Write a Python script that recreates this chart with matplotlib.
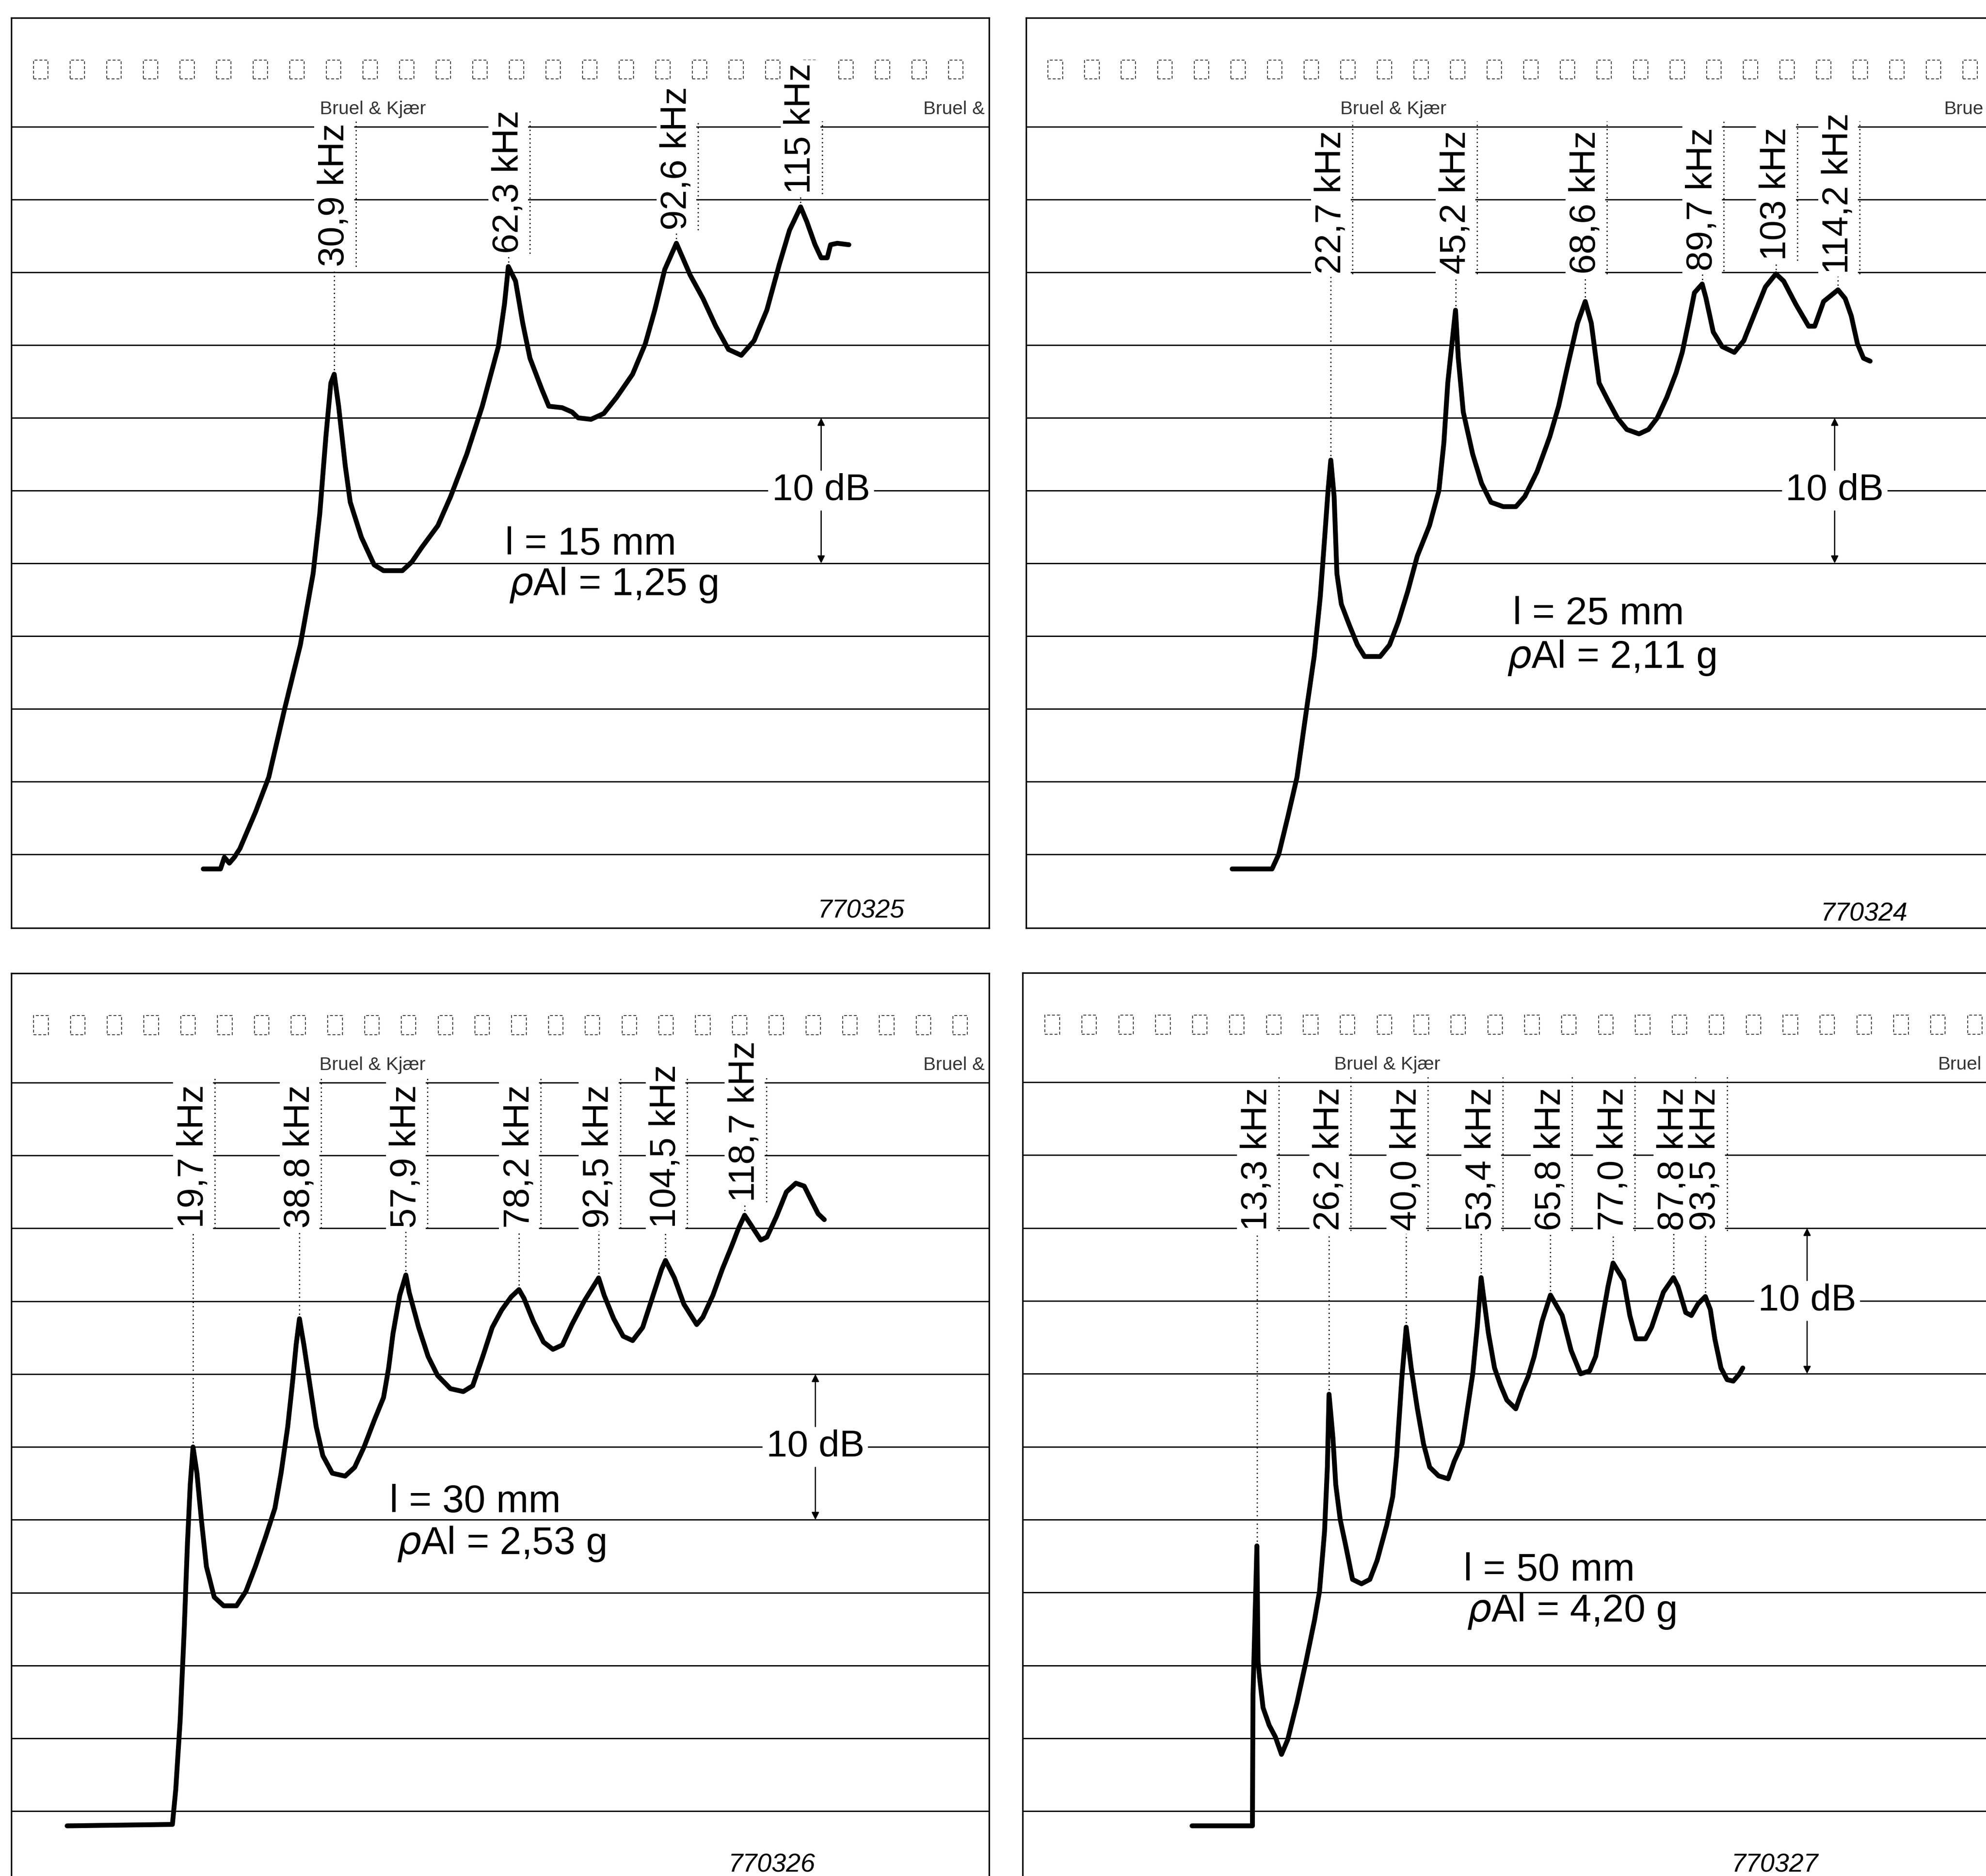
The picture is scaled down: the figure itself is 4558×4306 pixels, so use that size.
import numpy as np
import matplotlib
matplotlib.use("Agg")
import matplotlib.pyplot as plt
from matplotlib.patches import Rectangle

plt.rcParams['font.family'] = ['Liberation Sans', 'DejaVu Sans']

# reference layout is measured on a 1568 x 1481 "screen" grid
SW, SH = 1568.0, 1481.0
GRID_LEVELS = list(range(0, 55, 5))   # recorder paper lines, 5 dB apart

# ---- 770325 : l = 15 mm  (freq in kHz, level in dB above bottom line)
tl_freq = [7.3, 10.4, 11.1, 12.0, 12.9, 13.9, 16.7, 19.1, 21.9, 24.8,
           27.1, 28.3, 29.4, 30.3, 30.9, 31.7, 32.9, 33.8, 35.8, 38.1,
           39.8, 43.2, 44.9, 46.7, 49.6, 51.9, 54.8, 57.6, 60.5, 61.6,
           62.3, 63.6, 64.9, 66.2, 68.3, 69.6, 72.0, 73.8, 74.9, 77.2,
           79.5, 81.8, 84.7, 87.0, 88.7, 90.5, 92.6, 93.4, 95.1, 97.4,
           99.7, 102.0, 104.3, 106.6, 108.9, 111.2, 113.0, 115.0, 116.1, 117.6,
           118.7, 119.8, 120.4, 121.6, 123.7]
tl_level = [-1.0, -1.0, -0.2, -0.6, -0.2, 0.4, 2.9, 5.3, 9.9, 14.4,
            19.3, 23.4, 28.7, 32.4, 33.0, 30.8, 26.7, 24.2, 21.8, 19.9,
            19.5, 19.5, 20.1, 21.1, 22.6, 24.6, 27.5, 30.8, 34.9, 37.8,
            40.4, 39.4, 36.5, 34.1, 32.0, 30.8, 30.7, 30.4, 30.0, 29.9,
            30.3, 31.4, 33.0, 35.1, 37.4, 40.2, 42.0, 41.3, 39.8, 38.2,
            36.3, 34.7, 34.3, 35.3, 37.4, 40.6, 42.9, 44.5, 43.5, 41.9,
            41.0, 41.0, 41.9, 42.0, 41.9]
tl_peaks = [30.9, 62.3, 92.6, 115.0]
tl_labels = ["30,9 kHz", "62,3 kHz", "92,6 kHz", "115 kHz"]

# ---- 770324 : l = 25 mm
tr_freq = [4.9, 12.1, 13.3, 14.9, 16.6, 18.3, 19.7, 20.8, 21.6, 22.2,
           22.7, 23.3, 23.8, 24.6, 26.0, 27.5, 28.8, 31.6, 33.3, 34.9,
           36.6, 38.3, 40.5, 42.2, 43.1, 43.8, 45.2, 45.7, 46.6, 48.3,
           49.9, 51.6, 53.8, 56.1, 57.7, 59.9, 62.2, 63.8, 65.5, 67.2,
           68.6, 69.7, 71.1, 72.7, 74.4, 76.1, 78.3, 80.0, 81.6, 83.3,
           85.0, 86.1, 87.2, 88.3, 89.7, 90.4, 91.7, 93.3, 95.5, 97.2,
           99.4, 101.1, 103.0, 104.4, 106.6, 108.9, 110.0, 111.6, 114.2, 115.5,
           116.6, 117.7, 118.8, 120.0]
tr_level = [-1.0, -1.0, 0.0, 2.5, 5.3, 9.9, 13.6, 17.7, 21.8, 25.0,
            27.1, 24.6, 19.3, 17.2, 15.8, 14.4, 13.6, 13.6, 14.4, 16.0,
            18.1, 20.5, 22.6, 25.0, 28.3, 32.4, 37.4, 34.1, 30.4, 27.5,
            25.5, 24.2, 23.9, 23.9, 24.6, 26.3, 28.7, 30.8, 33.7, 36.5,
            38.0, 36.5, 32.4, 31.2, 30.0, 29.2, 28.9, 29.2, 30.0, 31.4,
            33.1, 34.5, 36.5, 38.6, 39.2, 38.2, 35.9, 34.9, 34.5, 35.3,
            37.4, 39.0, 39.9, 39.4, 37.8, 36.3, 36.3, 38.0, 38.8, 38.2,
            37.0, 35.1, 34.1, 33.9]
tr_peaks = [22.7, 45.2, 68.6, 89.7, 103.0, 114.2]
tr_labels = ["22,7 kHz", "45,2 kHz", "68,6 kHz", "89,7 kHz", "103 kHz", "114,2 kHz"]

# ---- 770326 : l = 30 mm
bl_freq = [-2.9, 16.0, 16.6, 17.4, 18.1, 18.7, 19.2, 19.7, 20.4, 21.2,
           22.1, 23.5, 25.2, 27.5, 29.2, 30.9, 32.7, 34.4, 35.5, 36.7,
           37.6, 38.2, 38.8, 39.6, 40.7, 41.8, 43.0, 44.7, 47.0, 48.7,
           50.4, 52.2, 53.9, 54.8, 55.6, 56.8, 57.9, 58.5, 60.2, 61.9,
           63.6, 65.9, 68.2, 69.9, 71.7, 73.4, 75.1, 76.8, 78.2, 79.1,
           80.8, 82.6, 84.3, 86.0, 87.7, 89.9, 92.5, 93.5, 95.2, 96.9,
           98.6, 100.4, 102.1, 103.8, 104.5, 106.1, 107.8, 110.1, 111.2, 113.0,
           114.7, 116.4, 117.6, 118.7, 119.9, 121.6, 122.7, 124.4, 126.2, 127.9,
           129.4, 130.7, 131.9, 133.0]
bl_level = [-1.0, -0.9, 1.5, 6.3, 12.3, 18.4, 22.4, 25.0, 23.2, 20.0,
            16.8, 14.7, 14.1, 14.1, 15.1, 16.8, 18.8, 20.8, 23.2, 26.4,
            29.6, 32.0, 33.8, 32.0, 29.2, 26.4, 24.4, 23.2, 23.0, 23.6,
            25.0, 26.8, 28.4, 30.4, 32.8, 35.4, 36.8, 35.6, 33.2, 31.2,
            29.9, 29.0, 28.8, 29.2, 31.2, 33.2, 34.4, 35.3, 35.8, 35.2,
            33.6, 32.2, 31.7, 32.0, 33.4, 35.0, 36.6, 35.4, 33.8, 32.6,
            32.3, 33.2, 35.2, 37.2, 37.8, 36.6, 34.8, 33.4, 33.9, 35.4,
            37.2, 38.8, 40.0, 40.9, 40.2, 39.2, 39.4, 40.8, 42.5, 43.1,
            42.9, 41.9, 41.0, 40.6]
bl_peaks = [19.7, 38.8, 57.9, 78.2, 92.5, 104.5, 118.7]
bl_labels = ["19,7 kHz", "38,8 kHz", "57,9 kHz", "78,2 kHz", "92,5 kHz",
             "104,5 kHz", "118,7 kHz"]

# ---- 770327 : l = 50 mm
br_freq = [1.7, 12.5, 12.6, 13.3, 13.5, 13.8, 14.4, 15.5, 16.6, 17.7,
           18.8, 20.5, 22.1, 23.6, 24.5, 25.4, 25.9, 26.2, 26.9, 27.4,
           28.2, 29.3, 30.4, 32.0, 33.5, 34.8, 36.5, 37.6, 38.3, 39.2,
           40.0, 40.9, 42.0, 43.1, 44.2, 45.8, 47.5, 48.6, 50.0, 50.8,
           51.9, 52.7, 53.4, 54.7, 55.8, 56.9, 58.0, 59.6, 60.7, 61.8,
           62.9, 64.3, 65.8, 67.9, 69.5, 71.2, 72.8, 73.9, 75.0, 76.1,
           77.0, 78.9, 80.0, 81.1, 82.8, 83.9, 86.0, 87.8, 88.6, 90.0,
           91.0, 92.2, 93.5, 94.4, 95.2, 96.3, 97.4, 98.5, 99.6, 100.2]
br_level = [-1.0, -1.0, 8.0, 18.2, 10.3, 9.1, 7.1, 5.9, 5.1, 3.9,
            4.9, 7.5, 10.3, 13.1, 15.1, 19.2, 23.6, 28.6, 25.6, 22.4,
            20.0, 18.0, 15.9, 15.6, 15.9, 17.2, 19.6, 21.6, 24.4, 29.6,
            33.2, 30.4, 27.6, 25.2, 23.6, 23.0, 22.8, 24.0, 25.2, 27.2,
            30.0, 33.2, 36.6, 32.8, 30.4, 29.2, 28.2, 27.6, 28.8, 29.8,
            31.2, 33.6, 35.4, 34.0, 31.6, 30.0, 30.2, 31.2, 33.6, 36.0,
            37.6, 36.4, 34.0, 32.4, 32.4, 33.2, 35.6, 36.6, 36.0, 34.2,
            34.0, 34.8, 35.3, 34.4, 32.4, 30.4, 29.6, 29.5, 30.0, 30.4]
br_peaks = [13.3, 26.2, 40.0, 53.4, 65.8, 77.0, 87.8, 93.5]
br_labels = ["13,3 kHz", "26,2 kHz", "40,0 kHz", "53,4 kHz", "65,8 kHz",
             "77,0 kHz", "87,8 kHz", "93,5 kHz"]

lengths = ["l = 15 mm", "l = 25 mm", "l = 30 mm", "l = 50 mm"]
masses = [r"$\rho$Al = 1,25 g", r"$\rho$Al = 2,11 g", r"$\rho$Al = 2,53 g", r"$\rho$Al = 4,20 g"]
codes = ["770325", "770324", "770326", "770327"]
# paper imprint, the second copy is cut by the panel edge in the original
brand_marks = [("Bruel & Kjær", "Bruel &"), ("Bruel & Kjær", "Brue"),
               ("Bruel & Kjær", "Bruel &"), ("Bruel & Kjær", "Bruel")]

PANELS = [
    dict(freq=tl_freq, level=tl_level, peaks=tl_peaks, labels=tl_labels,
         rect=(9, 14, 781, 732.5), xlim=(-27.3, 149.0), ylim=(-5.05, 57.5),
         spines=("left", "right", "top", "bottom"), floor=40.4,
         marker=(118.7, 20, 30), len_xy=(61.7, 21.3), mass_xy=(62.3, 18.5),
         code_xy=(118.1, -3.9), bk_x=(28.3, 137.1)),
    dict(freq=tr_freq, level=tr_level, peaks=tr_peaks, labels=tr_labels,
         rect=(810, 14, 1568, 732.5), xlim=(-32.3, 140.9), ylim=(-5.05, 57.5),
         spines=("left", "top", "bottom"), floor=39.9,
         marker=(113.6, 20, 30), len_xy=(55.5, 16.5), mass_xy=(54.4, 13.5),
         code_xy=(111.1, -4.1), bk_x=(24.4, 133.3)),
    dict(freq=bl_freq, level=bl_level, peaks=bl_peaks, labels=bl_labels,
         rect=(9, 768.4, 781, 1481), xlim=(-12.9, 162.6), ylim=(-4.44, 57.5),
         spines=("left", "right", "top"), floor=40.0,
         marker=(131.4, 20, 30), len_xy=(55.0, 21.2), mass_xy=(56.2, 18.35),
         code_xy=(115.8, -3.7), bk_x=(42.4, 150.8)),
    dict(freq=br_freq, level=br_level, peaks=br_peaks, labels=br_labels,
         rect=(807.4, 768, 1568, 1481), xlim=(-28.6, 143.7), ylim=(-4.44, 57.5),
         spines=("left", "top"), floor=39.8,
         marker=(111.7, 30, 40), len_xy=(50.3, 16.5), mass_xy=(50.8, 13.7),
         code_xy=(98.2, -3.7), bk_x=(27.1, 135.1)),
]


def draw_panel(fig, p, length, mass, code, brand):
    left, top, right, bottom = p["rect"]
    ax = fig.add_axes([left / SW, 1 - bottom / SH, (right - left) / SW, (bottom - top) / SH])
    ax.set_xlim(p["xlim"])
    ax.set_ylim(p["ylim"])
    ax.set_xticks([])
    ax.set_yticks([])
    for name, spine in ax.spines.items():
        spine.set_visible(name in p["spines"])
        spine.set_linewidth(2.5)

    for lev in GRID_LEVELS:
        ax.axhline(lev, color="black", lw=2.2, zorder=1)

    # sprocket holes of the recorder paper
    x0, x1 = p["xlim"]
    for hx in np.arange(x0 + 4.0, x1 - 2.6, 6.6):
        ax.add_patch(Rectangle((hx, 53.3), 2.6, 1.3, fill=False, ec="#444444",
                               lw=1.6, ls=(0, (3, 2)), zorder=1))

    for bx, txt in zip(p["bk_x"], brand):
        ax.text(bx, 51.2, txt, fontsize=31, color="#333333",
                ha="left", va="center", zorder=2)

    ax.plot(p["freq"], p["level"], color="black", lw=8,
            solid_joinstyle="round", solid_capstyle="round", zorder=4)

    # resonance markers
    for f, lab in zip(p["peaks"], p["labels"]):
        pk = np.interp(f, p["freq"], p["level"])
        base = max(pk + 0.9, p["floor"])
        ax.plot([f, f], [pk, base], color="black", lw=2, ls=(0, (1, 2.5)), zorder=2)
        ax.plot([f + 3.9, f + 3.9], [base, 50.4], color="black", lw=2,
                ls=(0, (1, 2.5)), zorder=2)
        ax.text(f, base, lab, rotation=90, ha="center", va="bottom", fontsize=60,
                zorder=3, bbox=dict(boxstyle="square,pad=0.08", fc="white", ec="none"))

    # 10 dB scale marker
    mx, lo, hi = p["marker"]
    mid = (lo + hi) / 2
    ax.text(mx, mid, "10 dB", ha="center", va="center", fontsize=62, zorder=3,
            bbox=dict(boxstyle="square,pad=0.1", fc="white", ec="none"))
    for start, end in ((mid + 1.4, hi), (mid - 1.4, lo)):
        ax.annotate("", xy=(mx, end), xytext=(mx, start), zorder=3,
                    arrowprops=dict(arrowstyle="-|>", color="black", lw=2,
                                    mutation_scale=25, shrinkA=0, shrinkB=0))

    ax.text(*p["len_xy"], length, fontsize=64, ha="left", va="center", zorder=3)
    ax.text(*p["mass_xy"], mass, fontsize=64, ha="left", va="center", zorder=3)
    ax.text(*p["code_xy"], code, fontsize=43, style="italic", ha="left", va="center", zorder=3)
    return ax


def main():
    fig = plt.figure(figsize=(45.58, 43.06), dpi=100, facecolor="white")
    for p, length, mass, code, brand in zip(PANELS, lengths, masses, codes, brand_marks):
        draw_panel(fig, p, length, mass, code, brand)
    fig.savefig("out.png", dpi=100, facecolor="white")
    plt.close(fig)


if __name__ == "__main__":
    main()
